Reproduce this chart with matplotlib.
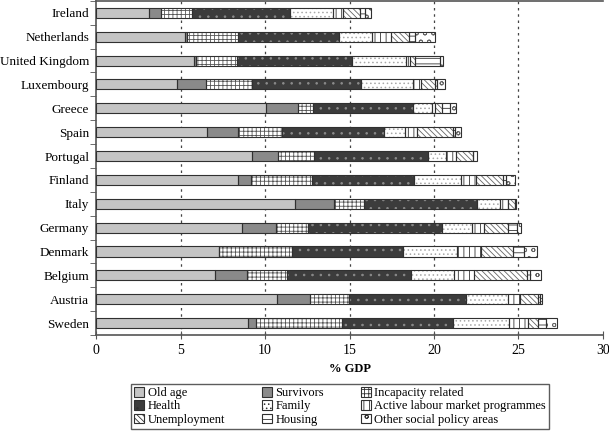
import matplotlib
matplotlib.use("Agg")
from matplotlib import pyplot as plt
from matplotlib.patches import Patch
import numpy as np

plt.rcParams['font.family'] = ['Liberation Serif', 'DejaVu Serif']
plt.rcParams['hatch.linewidth'] = 0.6

countries = ["Ireland", "Netherlands", "United Kingdom", "Luxembourg", "Greece", "Spain",
             "Portugal", "Finland", "Italy", "Germany", "Denmark", "Belgium", "Austria", "Sweden"]

categories = ["Old age", "Survivors", "Incapacity related", "Health", "Family",
              "Active labour market programmes", "Unemployment", "Housing",
              "Other social policy areas"]

# % of GDP, one list per category, in country order
old_age = [3.10, 5.23, 5.76, 4.77, 10.04, 6.55, 9.25, 8.38, 11.75, 8.66, 7.28, 7.04, 10.73, 9.01]
survivors = [0.76, 0.17, 0.16, 1.72, 1.93, 1.87, 1.54, 0.79, 2.33, 1.99, 0.00, 1.91, 1.93, 0.46]
incapacity = [1.80, 3.02, 2.44, 2.76, 0.89, 2.57, 2.11, 3.59, 1.78, 1.91, 4.30, 2.37, 2.33, 5.06]
health = [5.82, 5.98, 6.81, 6.41, 5.87, 6.05, 6.72, 6.08, 6.66, 7.89, 6.57, 7.30, 6.90, 6.61]
family = [2.52, 1.91, 3.17, 3.12, 1.13, 1.24, 1.09, 2.76, 1.38, 1.78, 3.23, 2.56, 2.51, 3.32]
almp = [0.63, 1.15, 0.24, 0.43, 0.20, 0.73, 0.57, 0.89, 0.46, 0.73, 1.38, 1.21, 0.69, 1.12]
unemployment = [0.99, 1.08, 0.30, 0.85, 0.43, 2.09, 1.01, 1.57, 0.43, 1.44, 1.89, 3.13, 1.08, 0.59]
housing = [0.30, 0.34, 1.48, 0.09, 0.46, 0.14, 0.03, 0.20, 0.02, 0.53, 0.68, 0.16, 0.10, 0.49]
other = [0.35, 1.18, 0.15, 0.50, 0.35, 0.34, 0.20, 0.53, 0.05, 0.20, 0.75, 0.65, 0.14, 0.60]

series = [old_age, survivors, incapacity, health, family, almp, unemployment, housing, other]

# fill colour, hatch, hatch colour
styles = [("#c4c4c4", None, "#c4c4c4"),
          ("#8a8a8a", None, "#8a8a8a"),
          ("#ffffff", "++++", "#555555"),
          ("#3c3c3c", "..", "#8c8c8c"),
          ("#ffffff", "....", "#a8a8a8"),
          ("#ffffff", "|||", "#333333"),
          ("#ffffff", "\\\\\\\\\\\\", "#666666"),
          ("#ffffff", "---", "#333333"),
          ("#ffffff", "oo", "#666666")]

fig = plt.figure(figsize=(6.09, 4.34), dpi=100)
ax = fig.add_axes([0.158, 0.228, 0.832, 0.770])

y = np.arange(len(countries))
left = np.zeros(len(countries))
for vals, (fc, hatch, hc) in zip(series, styles):
    vals = np.array(vals)
    ax.barh(y, vals, left=left, height=0.42, color=fc, hatch=hatch,
            edgecolor=hc, linewidth=0, zorder=3)
    ax.barh(y, vals, left=left, height=0.42, fill=False,
            edgecolor="#303030", linewidth=0.8, zorder=4)
    left += vals

ax.set_ylim(len(countries) - 0.5, -0.5)
ax.set_xlim(0, 30)
ax.set_yticks(y)
ax.set_yticklabels(countries, fontsize=9.5)
ax.set_yticks(np.arange(-0.5, len(countries), 1), minor=True)
ax.tick_params(axis='y', which='major', length=0, pad=5)
ax.tick_params(axis='y', which='minor', length=4, direction='out', color="#555555")
ax.set_xticks(np.arange(0, 31, 5))
ax.tick_params(axis='x', labelsize=10, direction='inout', length=6, color="#555555")
ax.set_xlabel("% GDP", fontsize=9, fontweight='bold', labelpad=4)

for xv in range(5, 30, 5):
    ax.axvline(xv, color="#444444", linestyle=(0, (2, 3)), linewidth=0.9, zorder=1)

for side in ["left", "bottom", "top"]:
    ax.spines[side].set_color("#555555")
    ax.spines[side].set_linewidth(1.2)
ax.spines["right"].set_visible(False)

handles = [Patch(facecolor=fc, hatch=hatch, edgecolor="#303030", linewidth=0.8)
           for fc, hatch, hc in styles]
order = [0, 3, 6, 1, 4, 7, 2, 5, 8]
leg = fig.legend([handles[i] for i in order], [categories[i] for i in order],
                 ncol=3, loc='upper left', bbox_to_anchor=(0.205, 0.0, 0.707, 0.13),
                 mode='expand', fontsize=9, frameon=True, fancybox=False,
                 handlelength=0.8, handleheight=0.8, handletextpad=0.3,
                 columnspacing=1.0, labelspacing=0.1, borderpad=0.25)
leg.get_frame().set_edgecolor("#333333")
leg.get_frame().set_linewidth(1.0)

fig.savefig("out.png", dpi=100)
